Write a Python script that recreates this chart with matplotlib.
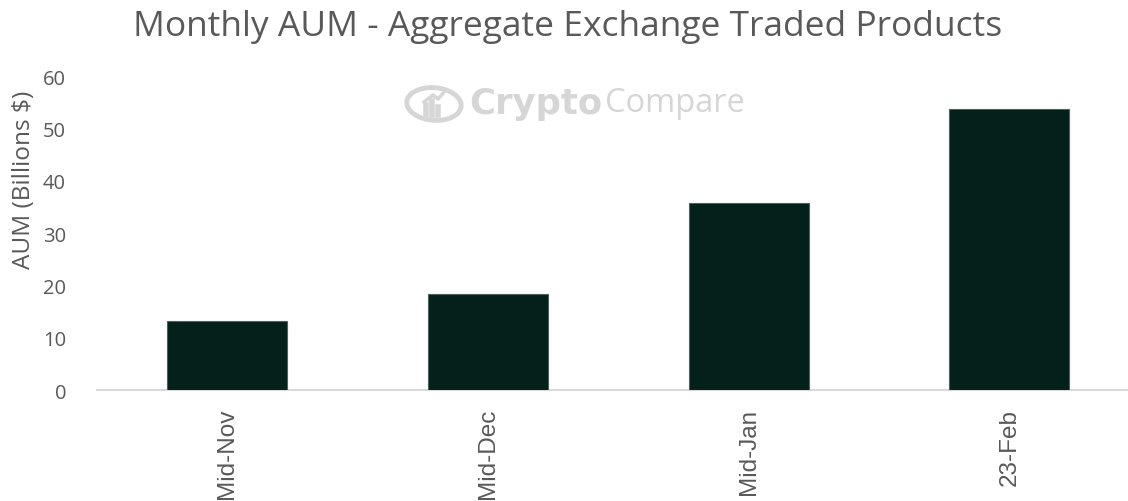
import matplotlib.pyplot as plt
from matplotlib.patches import Ellipse
from matplotlib.lines import Line2D

# Data
months = ["Mid-Nov", "Mid-Dec", "Mid-Jan", "23-Feb"]
aum_billions = [13.2, 18.4, 35.8, 53.7]
y_ticks = [0, 10, 20, 30, 40, 50, 60]

plt.rcParams['font.family'] = ['Open Sans', 'DejaVu Sans']

W, H = 1128, 502
fig = plt.figure(figsize=(W / 100, H / 100), dpi=100)
ax = fig.add_axes([96.6 / W, 0.2211, 1043.3 / W, 0.6255])

ax.bar(range(len(months)), aum_billions, width=0.46, color="#03201b",
       edgecolor="#4f5f5b", linewidth=0.8, zorder=3)

ax.set_xlim(-0.5, 3.5)
ax.set_ylim(0, 60)
ax.set_yticks(y_ticks)
ax.set_xticks(range(len(months)))
ax.set_xticklabels(months, rotation=90, fontsize=17.5, color="#595959",
                   family="Liberation Sans")
ax.tick_params(axis="y", labelsize=14.5, labelcolor="#595959", length=0, pad=22)
ax.tick_params(axis="x", length=0, pad=13)

for side in ["top", "right", "left"]:
    ax.spines[side].set_visible(False)
ax.spines["bottom"].set_color("#d9d9d9")
ax.spines["bottom"].set_linewidth(1.5)

ax.set_ylabel("AUM (Billions $)", fontsize=17.6, color="#595959")
ax.yaxis.set_label_coords(-0.058, 0.672)

fig.text(0.503, 1 - 27 / H, "Monthly AUM - Aggregate Exchange Traded Products",
         ha="center", va="center", fontsize=25.5, color="#595959")

# watermark
wm = "#d6d6d6"
fig.patches.append(Ellipse((434 / W, 1 - 105 / H), 54 / W, 33 / H, angle=8,
                           transform=fig.transFigure, fill=False,
                           edgecolor=wm, linewidth=3.5))
for bx, bh in [(426, 10), (432, 14), (438, 8)]:
    fig.add_artist(Line2D([bx / W, bx / W], [1 - 116 / H, 1 - (116 - bh) / H],
                          transform=fig.transFigure, color=wm, linewidth=4))
fig.add_artist(Line2D([424 / W, 433 / W, 438 / W, 445 / W],
                      [1 - 103 / H, 1 - 96 / H, 1 - 100 / H, 1 - 92 / H],
                      transform=fig.transFigure, color=wm, linewidth=2.5))
t1 = fig.text(469 / W, 1 - 104 / H, "Crypto", ha="left", va="center",
              fontsize=25.5, fontweight="bold", family="DejaVu Sans", color=wm)
fig.canvas.draw()
bb = t1.get_window_extent()
fig.text((bb.x1 + 3) / W, 1 - 104 / H, "Compare", ha="left", va="center",
         fontsize=23.5, color=wm)

fig.savefig("out.png", dpi=100)
